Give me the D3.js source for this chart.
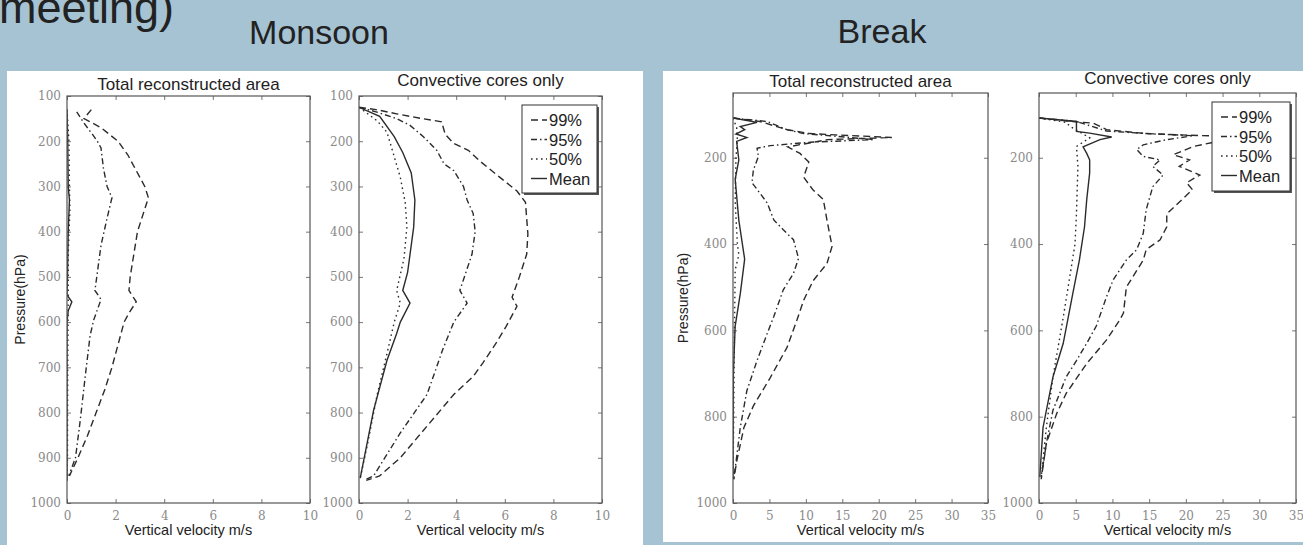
<!DOCTYPE html>
<html>
<head>
<meta charset="utf-8">
<script src="https://cdn.jsdelivr.net/npm/d3@7"></script>
<style>
  body { margin: 0; background: #a6c3d4; }
  svg  { display: block; }
</style>
</head>
<body>
<svg id="chart" width="1303" height="545"></svg>
<script>
/* ─── Data: [pressure hPa, vertical velocity m/s] ────────────────────────── */

// Monsoon, total reconstructed area
const monTot99   = [[130,1.0],[150,0.7],[170,1.4],[200,2.1],[230,2.5],[260,2.8],[300,3.2],[325,3.35],[350,3.2],[400,2.9],[450,2.75],[500,2.6],[530,2.55],[555,2.85],[580,2.55],[600,2.35],[650,2.1],[700,1.85],[750,1.55],[800,1.2],[850,0.85],[900,0.45],[940,0.1]];
const monTot95   = [[135,0.4],[160,0.7],[185,1.05],[200,1.25],[215,1.4],[260,1.5],[300,1.65],[325,1.85],[370,1.65],[430,1.4],[530,1.15],[550,1.4],[595,1.1],[630,0.95],[720,0.75],[815,0.55],[900,0.35],[940,0.07]];
const monTot50   = [[130,0],[200,0.08],[300,0.1],[350,0.12],[450,0.05],[550,0.05],[700,0.03],[900,0.02],[950,0]];
const monTotMean = [[130,0],[200,0.03],[300,0.05],[330,0.1],[400,0.05],[500,0.02],[540,0],[555,0.2],[575,0.05],[600,0],[800,0],[950,0]];

// Monsoon, convective cores only
const monCore99   = [[125,0],[130,0.7],[140,1.6],[150,2.6],[157,3.4],[185,3.55],[205,3.9],[220,4.5],[245,5.0],[280,5.8],[310,6.5],[335,6.85],[370,6.9],[405,6.95],[450,6.9],[500,6.6],[545,6.3],[565,6.5],[610,6.05],[650,5.6],[690,5.1],[720,4.7],[760,3.9],[830,2.8],[900,1.7],[940,0.85],[950,0.3]];
const monCore95   = [[125,0],[135,0.7],[150,1.55],[165,2.1],[190,2.65],[220,3.2],[250,3.5],[265,3.9],[300,4.3],[330,4.45],[360,4.7],[400,4.78],[450,4.65],[530,4.15],[558,4.45],[600,3.9],[620,3.75],[660,3.45],[760,2.8],[845,1.7],[940,0.6],[950,0.2]];
const monCore50   = [[125,0],[155,0.75],[180,1.15],[225,1.4],[280,1.7],[335,1.9],[390,1.97],[460,1.85],[530,1.55],[558,1.7],[600,1.45],[670,1.15],[760,0.75],[870,0.35],[945,0.05]];
const monCoreMean = [[125,0],[145,0.85],[190,1.45],[225,1.8],[270,2.15],[330,2.3],[390,2.25],[490,2.0],[530,1.8],[558,2.1],[600,1.7],[625,1.55],[685,1.15],[795,0.6],[945,0.05]];

// Break, total reconstructed area
const brkTot99   = [[108,0],[116,3.7],[135,7.4],[144,10.6],[147,14],[150,18],[153,21.8],[158,13],[175,7.5],[190,9.2],[210,10.4],[245,9.7],[275,11],[297,12.4],[345,12.9],[405,13.6],[445,12.9],[485,11],[530,9.7],[575,8.8],[640,7.4],[710,5.1],[775,2.8],[825,1.5],[900,0.55],[945,0.1]];
const brkTot95   = [[108,0],[116,4.7],[135,7.4],[144,9.7],[149,13.3],[158,19.3],[164,10.6],[172,5.1],[178,3.3],[197,3.5],[228,2.8],[258,2.6],[282,3.7],[305,4.7],[344,5.6],[367,6.9],[390,8.3],[433,9.0],[468,8.3],[506,6.9],[568,5.6],[607,4.7],[670,3.3],[740,1.9],[825,1.0],[900,0.45],[945,0.1]];
const brkTot50   = [[108,0],[130,0.5],[160,0.6],[200,0.4],[300,0.3],[400,0.6],[425,0.8],[460,0.3],[600,0.2],[800,0.1],[945,0]];
const brkTotMean = [[108,0],[118,3.3],[128,1.0],[135,1.6],[145,0.4],[153,1.9],[162,0.5],[205,0.8],[250,0.3],[345,0.8],[435,1.6],[515,1.0],[590,0.3],[700,0.05],[945,0]];

// Break, convective cores only
const brkCore99   = [[108,0],[116,4.6],[120,7.4],[135,9.2],[144,14.6],[147,19.2],[150,24.6],[160,25],[174,21],[193,18.3],[205,20.5],[220,19.1],[240,21.9],[258,20.1],[274,20.9],[330,17.4],[360,17.4],[390,16.5],[413,14.6],[437,14.2],[500,11.9],[560,11.5],[576,11],[622,9.2],[677,6.5],[746,3.7],[793,2.4],[862,1.0],[945,0.3]];
const brkCore95   = [[108,0],[116,5.1],[138,9.2],[144,14.6],[149,21],[158,17.4],[170,14.2],[181,13.3],[197,14.2],[205,16.5],[220,15.5],[240,16.9],[267,15.5],[320,14.6],[375,14.2],[413,13.3],[437,11.9],[483,10.1],[522,9.2],[590,7.8],[630,6.5],[670,5.1],[708,3.7],[785,1.9],[862,1.0],[940,0.3]];
const brkCore50   = [[108,0],[118,3.7],[127,4.2],[154,6.9],[174,5.1],[220,5.3],[330,5.1],[400,4.9],[475,4.2],[570,3.3],[708,1.9],[825,1.0],[940,0.3]];
const brkCoreMean = [[108,0],[116,5.1],[139,5.1],[143,6.9],[152,9.9],[158,8.3],[175,6.0],[190,6.5],[205,6.9],[235,6.9],[297,6.5],[360,6.2],[437,5.5],[515,4.6],[630,3.3],[708,1.9],[825,0.55],[940,0.1]];

// Tick labels
const monXTicks = [0, 2, 4, 6, 8, 10];
const monYTicks = [100, 200, 300, 400, 500, 600, 700, 800, 900, 1000];
const brkXTicks = [0, 5, 10, 15, 20, 25, 30, 35];
const brkYTicks = [200, 400, 600, 800, 1000];

const seriesNames = ['99%', '95%', '50%', 'Mean'];

/* ─── Styles ─────────────────────────────────────────────────────────────── */

const INK = '#2b2b2b';
const DASH = ['7,4', '6,3,1.5,3', '1.6,3.4', null];
const SANS = '"Liberation Sans", Arial, sans-serif';
const SERIF = '"DejaVu Serif", "Liberation Serif", serif';

/* ─── Layout ─────────────────────────────────────────────────────────────── */

const panels = [
  { x0: 67,   x1: 310,  y0: 96, y1: 503, xMax: 10, yMin: 100, xTicks: monXTicks, yTicks: monYTicks,
    title: 'Total reconstructed area', titleY: 90, ylabelX: 20,
    series: [monTot99, monTot95, monTot50, monTotMean] },
  { x0: 359,  x1: 602,  y0: 96, y1: 503, xMax: 10, yMin: 100, xTicks: monXTicks, yTicks: monYTicks,
    title: 'Convective cores only', titleY: 86,
    series: [monCore99, monCore95, monCore50, monCoreMean],
    legend: { x: 522, y: 105, w: 75, h: 88, row0: 120 } },
  { x0: 733,  x1: 988,  y0: 93, y1: 503, xMax: 35, yMin: 50, xTicks: brkXTicks, yTicks: brkYTicks,
    title: 'Total reconstructed area', titleY: 87, ylabelX: 683,
    series: [brkTot99, brkTot95, brkTot50, brkTotMean] },
  { x0: 1039, x1: 1296, y0: 93, y1: 503, xMax: 35, yMin: 50, xTicks: brkXTicks, yTicks: brkYTicks,
    title: 'Convective cores only', titleY: 84,
    series: [brkCore99, brkCore95, brkCore50, brkCoreMean],
    legend: { x: 1212, y: 102, w: 78, h: 89, row0: 117 } },
];

/* ─── Background & headings ──────────────────────────────────────────────── */

const svg = d3.select('#chart');

// tail of the slide title, cut by the top edge as on the slide
svg.append('text').attr('x', -1).attr('y', 23)
  .attr('font-family', SANS).attr('font-size', 45).attr('fill', '#222')
  .text('meeting)');

svg.append('text').attr('x', 319).attr('y', 44).attr('text-anchor', 'middle')
  .attr('font-family', SANS).attr('font-size', 34).attr('fill', '#222')
  .text('Monsoon');

svg.append('text').attr('x', 882).attr('y', 43).attr('text-anchor', 'middle')
  .attr('font-family', SANS).attr('font-size', 34).attr('fill', '#222')
  .text('Break');

svg.append('rect').attr('x', 7).attr('y', 71).attr('width', 636).attr('height', 474).attr('fill', '#fff');
svg.append('rect').attr('x', 663).attr('y', 71).attr('width', 640).attr('height', 471).attr('fill', '#fff');

/* ─── Panels ─────────────────────────────────────────────────────────────── */

panels.forEach((p, i) => {
  const x = d3.scaleLinear().domain([0, p.xMax]).range([p.x0, p.x1]);
  const y = d3.scaleLinear().domain([p.yMin, 1000]).range([p.y0, p.y1]);
  const g = svg.append('g');

  // clip lines to the frame
  const clipId = 'clip' + i;
  svg.append('clipPath').attr('id', clipId)
    .append('rect').attr('x', p.x0).attr('y', p.y0).attr('width', p.x1 - p.x0).attr('height', p.y1 - p.y0);

  // inward ticks on all four sides
  const tickLen = 4;
  const fmt = d3.format('d');
  const axStyle = sel => {
    sel.select('.domain').remove();
    sel.selectAll('line').attr('stroke', '#666').attr('stroke-width', 0.9);
    sel.selectAll('text').attr('font-family', SERIF).attr('font-size', 12).attr('fill', '#8a8a8a');
  };
  g.append('g').attr('transform', `translate(0,${p.y1})`)
    .call(d3.axisBottom(x).tickValues(p.xTicks).tickFormat(fmt).tickSizeInner(-tickLen).tickSizeOuter(0).tickPadding(8))
    .call(axStyle);
  g.append('g').attr('transform', `translate(0,${p.y0})`)
    .call(d3.axisTop(x).tickValues(p.xTicks).tickSizeInner(-tickLen).tickSizeOuter(0).tickFormat(''))
    .call(axStyle);
  g.append('g').attr('transform', `translate(${p.x0},0)`)
    .call(d3.axisLeft(y).tickValues(p.yTicks).tickFormat(fmt).tickSizeInner(-tickLen).tickSizeOuter(0).tickPadding(6))
    .call(axStyle);
  g.append('g').attr('transform', `translate(${p.x1},0)`)
    .call(d3.axisRight(y).tickValues(p.yTicks).tickSizeInner(-tickLen).tickSizeOuter(0).tickFormat(''))
    .call(axStyle);

  // series
  const line = d3.line().x(d => x(d[1])).y(d => y(d[0]));
  g.append('g').attr('clip-path', `url(#${clipId})`)
    .selectAll('path').data(p.series).join('path')
    .attr('d', line)
    .attr('fill', 'none')
    .attr('stroke', INK)
    .attr('stroke-width', 1.4)
    .attr('stroke-dasharray', (d, k) => DASH[k]);

  // frame
  g.append('rect').attr('x', p.x0).attr('y', p.y0)
    .attr('width', p.x1 - p.x0).attr('height', p.y1 - p.y0)
    .attr('fill', 'none').attr('stroke', '#555').attr('stroke-width', 1.2);

  // title and axis labels
  g.append('text').attr('x', (p.x0 + p.x1) / 2).attr('y', p.titleY).attr('text-anchor', 'middle')
    .attr('font-family', SANS).attr('font-size', 17).attr('fill', '#222').text(p.title);
  g.append('text').attr('x', (p.x0 + p.x1) / 2).attr('y', 535).attr('text-anchor', 'middle')
    .attr('font-family', SANS).attr('font-size', 14.5).attr('fill', '#222').text('Vertical velocity m/s');
  if (p.ylabelX) {
    const cy = (p.y0 + p.y1) / 2;
    g.append('text').attr('transform', `translate(${p.ylabelX + 5},${cy}) rotate(-90)`)
      .attr('text-anchor', 'middle')
      .attr('font-family', SANS).attr('font-size', 14).attr('fill', '#222').text('Pressure(hPa)');
  }

  // legend
  if (p.legend) {
    const L = p.legend;
    g.append('rect').attr('x', L.x + 2).attr('y', L.y + 2).attr('width', L.w).attr('height', L.h).attr('fill', '#555');
    g.append('rect').attr('x', L.x).attr('y', L.y).attr('width', L.w).attr('height', L.h)
      .attr('fill', '#fff').attr('stroke', '#333').attr('stroke-width', 1);
    const rows = g.append('g').selectAll('g').data(seriesNames).join('g')
      .attr('transform', (d, k) => `translate(${L.x + 9},${L.row0 + k * 19.5})`);
    rows.append('line').attr('x1', 0).attr('x2', 16).attr('y1', 0).attr('y2', 0)
      .attr('stroke', INK).attr('stroke-width', 1.4)
      .attr('stroke-dasharray', (d, k) => DASH[k]);
    rows.append('text').attr('x', 18).attr('y', 6)
      .attr('font-family', SANS).attr('font-size', 16.5).attr('fill', '#222').text(d => d);
  }
});
</script>
</body>
</html>
